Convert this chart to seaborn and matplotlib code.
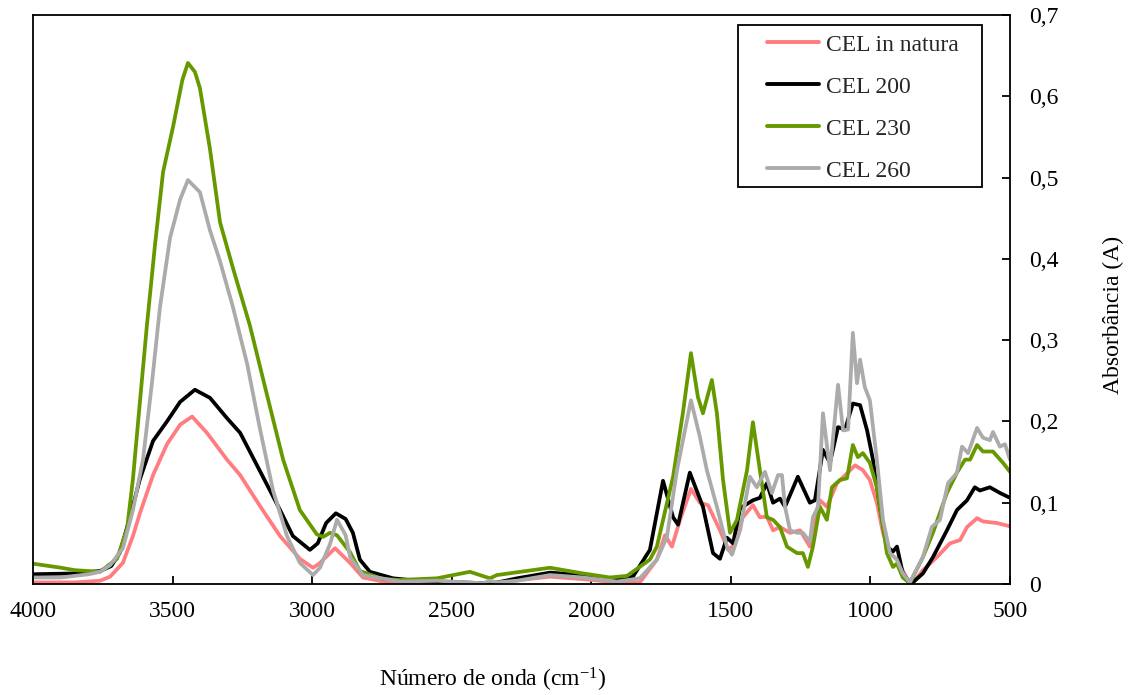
import numpy as np
import pandas as pd
import matplotlib
matplotlib.use("Agg")
import matplotlib.pyplot as plt
from matplotlib.patches import Rectangle
import seaborn as sns

# FTIR spectra: wavenumber (cm-1) and absorbance for each sample
wn_natura = [4000, 3850, 3760, 3724, 3678, 3642, 3617, 3570, 3520, 3473, 3430, 3377, 3305, 3258,
             3187, 3115, 3044, 2997, 2975, 2918, 2864, 2818, 2746, 2685, 2500, 2388, 2148, 2030,
             1908, 1826, 1765, 1736, 1711, 1682, 1643, 1611, 1582, 1539, 1510, 1492, 1457, 1421,
             1396, 1371, 1349, 1324, 1288, 1252, 1217, 1181, 1156, 1120, 1084, 1055, 1027, 1002,
             977, 955, 930, 905, 866, 848, 812, 762, 715, 679, 654, 618, 597, 547, 500]
abs_natura = [0.002, 0.002, 0.004, 0.009, 0.026, 0.059, 0.087, 0.134, 0.172, 0.196, 0.206, 0.186,
              0.153, 0.134, 0.096, 0.059, 0.031, 0.020, 0.025, 0.044, 0.026, 0.008, 0.003, 0.001,
              0.000, 0.000, 0.009, 0.006, 0.002, 0.002, 0.030, 0.060, 0.046, 0.079, 0.117, 0.100,
              0.097, 0.066, 0.042, 0.047, 0.082, 0.097, 0.082, 0.083, 0.066, 0.070, 0.063, 0.066,
              0.046, 0.103, 0.095, 0.124, 0.136, 0.146, 0.140, 0.128, 0.100, 0.063, 0.038, 0.030,
              0.005, 0.001, 0.017, 0.033, 0.050, 0.054, 0.070, 0.081, 0.077, 0.075, 0.071]

wn_200 = [4000, 3850, 3760, 3720, 3688, 3653, 3617, 3570, 3520, 3473, 3420, 3366, 3305, 3258,
          3187, 3115, 3069, 3008, 2980, 2950, 2915, 2880, 2854, 2829, 2793, 2710, 2624, 2388,
          2363, 2266, 2148, 2030, 1908, 1851, 1790, 1743, 1707, 1689, 1647, 1600, 1564, 1539,
          1514, 1492, 1467, 1421, 1396, 1371, 1349, 1324, 1306, 1260, 1217, 1199, 1170, 1145,
          1116, 1091, 1063, 1037, 1012, 991, 966, 941, 919, 905, 884, 866, 848, 812, 776, 726,
          690, 654, 626, 608, 572, 536, 500]
abs_200 = [0.012, 0.013, 0.016, 0.022, 0.039, 0.082, 0.129, 0.176, 0.200, 0.224, 0.239, 0.229,
           0.204, 0.186, 0.139, 0.091, 0.059, 0.042, 0.050, 0.075, 0.087, 0.080, 0.063, 0.030,
           0.015, 0.007, 0.004, 0.001, 0.000, 0.007, 0.014, 0.011, 0.005, 0.009, 0.042, 0.127,
           0.082, 0.073, 0.137, 0.095, 0.038, 0.031, 0.057, 0.050, 0.093, 0.103, 0.106, 0.124,
           0.100, 0.105, 0.095, 0.132, 0.100, 0.103, 0.165, 0.149, 0.193, 0.190, 0.222, 0.220,
           0.189, 0.153, 0.095, 0.046, 0.040, 0.046, 0.013, 0.005, 0.002, 0.013, 0.033, 0.066,
           0.091, 0.103, 0.119, 0.115, 0.119, 0.112, 0.106]

wn_230 = [4000, 3900, 3850, 3760, 3699, 3663, 3642, 3617, 3592, 3563, 3534, 3498, 3465, 3445,
          3420, 3402, 3366, 3330, 3284, 3223, 3162, 3104, 3044, 2983, 2960, 2936, 2911, 2864,
          2829, 2746, 2685, 2553, 2435, 2363, 2338, 2148, 2030, 1933, 1872, 1790, 1765, 1707,
          1672, 1643, 1618, 1600, 1568, 1550, 1528, 1503, 1478, 1442, 1421, 1396, 1371, 1349,
          1324, 1299, 1263, 1242, 1224, 1206, 1181, 1156, 1138, 1109, 1084, 1063, 1045, 1027,
          1002, 977, 955, 941, 919, 905, 884, 859, 812, 776, 726, 690, 661, 643, 618, 597, 561,
          525, 500]
abs_230 = [0.025, 0.020, 0.017, 0.015, 0.031, 0.068, 0.129, 0.224, 0.318, 0.417, 0.507, 0.563,
           0.620, 0.641, 0.630, 0.610, 0.535, 0.445, 0.389, 0.318, 0.233, 0.153, 0.091, 0.061,
           0.058, 0.063, 0.060, 0.039, 0.016, 0.006, 0.005, 0.007, 0.015, 0.007, 0.011, 0.020,
           0.013, 0.008, 0.010, 0.030, 0.046, 0.132, 0.210, 0.284, 0.230, 0.210, 0.251, 0.210,
           0.128, 0.063, 0.079, 0.140, 0.199, 0.140, 0.082, 0.079, 0.070, 0.046, 0.038, 0.038,
           0.021, 0.046, 0.095, 0.079, 0.119, 0.128, 0.130, 0.171, 0.156, 0.161, 0.149, 0.119,
           0.070, 0.038, 0.021, 0.025, 0.008, 0.001, 0.033, 0.063, 0.112, 0.137, 0.153, 0.153,
           0.171, 0.163, 0.163, 0.149, 0.138]

wn_260 = [4000, 3900, 3800, 3760, 3724, 3678, 3642, 3606, 3574, 3545, 3509, 3473, 3445, 3402,
          3366, 3330, 3284, 3233, 3187, 3140, 3090, 3044, 2997, 2972, 2936, 2911, 2880, 2864,
          2818, 2685, 2553, 2388, 2363, 2338, 2266, 2148, 2030, 1908, 1826, 1765, 1729, 1693,
          1643, 1611, 1586, 1550, 1514, 1496, 1467, 1432, 1407, 1378, 1353, 1331, 1317, 1306,
          1288, 1263, 1242, 1217, 1206, 1188, 1170, 1145, 1116, 1098, 1080, 1063, 1048, 1037,
          1020, 1002, 977, 955, 930, 905, 884, 859, 812, 780, 751, 722, 690, 672, 650, 618, 597,
          572, 561, 536, 518, 500]
abs_260 = [0.008, 0.008, 0.012, 0.015, 0.023, 0.044, 0.091, 0.153, 0.247, 0.341, 0.426, 0.473,
           0.497, 0.482, 0.435, 0.397, 0.341, 0.271, 0.191, 0.115, 0.059, 0.026, 0.011, 0.020,
           0.049, 0.079, 0.060, 0.033, 0.011, 0.003, 0.004, 0.001, 0.004, 0.002, 0.004, 0.011,
           0.008, 0.003, 0.007, 0.030, 0.058, 0.140, 0.226, 0.181, 0.140, 0.095, 0.046, 0.036,
           0.066, 0.132, 0.119, 0.138, 0.112, 0.134, 0.134, 0.095, 0.066, 0.063, 0.063, 0.052,
           0.082, 0.095, 0.210, 0.140, 0.245, 0.189, 0.190, 0.309, 0.247, 0.276, 0.242, 0.226,
           0.153, 0.079, 0.038, 0.030, 0.013, 0.002, 0.033, 0.070, 0.079, 0.124, 0.137, 0.169,
           0.161, 0.192, 0.180, 0.177, 0.187, 0.169, 0.172, 0.153]

samples = ["CEL in natura", "CEL 200", "CEL 230", "CEL 260"]
colors = ["#FF7C80", "#000000", "#669900", "#ABABAB"]

x_ticks = [4000, 3500, 3000, 2500, 2000, 1500, 1000, 500]
y_ticks = [0.0, 0.1, 0.2, 0.3, 0.4, 0.5, 0.6, 0.7]
y_ticklabels = ["0", "0,1", "0,2", "0,3", "0,4", "0,5", "0,6", "0,7"]

frames = []
for name, wn, ab in zip(samples,
                        [wn_natura, wn_200, wn_230, wn_260],
                        [abs_natura, abs_200, abs_230, abs_260]):
    frames.append(pd.DataFrame({"wn": wn, "A": ab, "Amostra": name}))
df = pd.concat(frames, ignore_index=True)

sns.set_theme(style="white")
plt.rcParams["font.family"] = ["Liberation Serif", "DejaVu Serif"]
plt.rcParams["mathtext.fontset"] = "custom"
plt.rcParams["mathtext.rm"] = "Liberation Serif"
plt.rcParams["mathtext.it"] = "Liberation Serif:italic"

FS = 17
fig = plt.figure(figsize=(11.29, 6.95), dpi=100)
ax = fig.add_axes([33 / 1129, 1 - 584 / 695, 977 / 1129, 569 / 695])

sns.lineplot(data=df, x="wn", y="A", hue="Amostra", hue_order=samples,
             palette=dict(zip(samples, colors)), estimator=None, linewidth=2.7,
             ax=ax, legend=True)
for ln in ax.get_lines():
    ln.set_solid_joinstyle("round")
    ln.set_solid_capstyle("round")

ax.set_xlim(4000, 500)
ax.set_ylim(0, 0.7)
ax.set_xticks(x_ticks)
ax.set_xticklabels([str(t) for t in x_ticks], fontsize=FS, color="black")
ax.yaxis.tick_right()
ax.set_yticks(y_ticks)
ax.set_yticklabels(y_ticklabels, fontsize=FS, color="black")
ax.tick_params(axis="x", direction="in", length=6, width=1.3, pad=12, colors="black",
               bottom=True, top=False)
ax.tick_params(axis="y", direction="in", length=6, width=1.3, pad=14, colors="black",
               right=True, left=False)
for sp in ax.spines.values():
    sp.set_visible(True)
    sp.set_color("black")
    sp.set_linewidth(1.3)

ax.set_xlabel(r"Número de onda (cm$^{\mathrm{-1}}$)", fontsize=FS, color="black")
ax.xaxis.set_label_coords((493 - 33) / 977, (584 - 680) / 569)
ax.xaxis.label.set_va("center")
ax.set_ylabel("Absorbância (A)", fontsize=FS, color="black")
ax.yaxis.set_label_position("right")
ax.yaxis.set_label_coords((1113 - 33) / 977, (584 - 315) / 569)
ax.yaxis.label.set_va("center")
ax.yaxis.label.set_ha("center")

handles, labels = ax.get_legend_handles_labels()
if ax.get_legend():
    ax.get_legend().remove()
leg = ax.legend(handles, labels, loc="upper left",
                bbox_to_anchor=((767 - 33) / 977, (584 - 34) / 569),
                frameon=False, fontsize=FS, handlelength=2.2, handletextpad=0.3,
                labelspacing=0.87, borderpad=0, borderaxespad=0)
for ln in leg.get_lines():
    ln.set_linewidth(2.8)
ax.add_patch(Rectangle(((738 - 33) / 977, (584 - 187) / 569), (982 - 738) / 977,
                       (187 - 25) / 569, transform=ax.transAxes, fill=False,
                       edgecolor="black", linewidth=1.3, zorder=5))

fig.savefig("out.png", dpi=100, facecolor="white")
